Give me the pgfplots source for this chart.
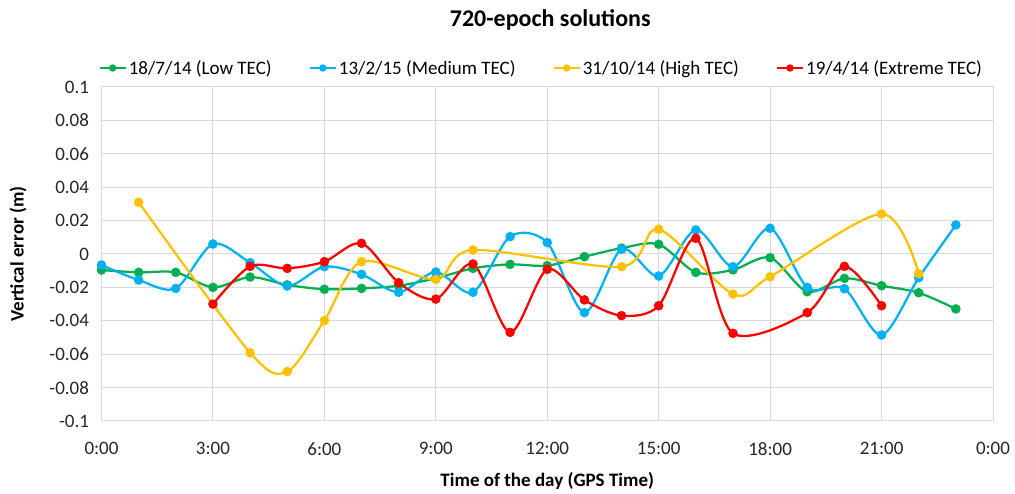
\documentclass[border=0pt]{standalone}
\usepackage{fontspec}
\setmainfont{Carlito}
\usepackage{pgfplots}
\pgfplotsset{compat=1.18}
\definecolor{cgreen}{RGB}{0,176,80}
\definecolor{cblue}{RGB}{0,176,240}
\definecolor{cyellow}{RGB}{255,192,0}
\definecolor{cred}{RGB}{255,0,0}
\definecolor{cgrid}{RGB}{217,217,217}
\begin{document}
\begin{tikzpicture}[x=1pt,y=1pt]
\useasboundingbox (-101.5,-73) rectangle (913.5,421);
\begin{axis}[
  at={(0,0)}, anchor=south west,
  scale only axis, width=891.5pt, height=334pt,
  xmin=0, xmax=24, ymin=-0.1, ymax=0.1,
  xtick={0,3,...,24},
  xticklabels={0:00,3:00,6:00,9:00,12:00,15:00,18:00,21:00,0:00},
  ytick={-0.1,-0.08,-0.06,-0.04,-0.02,0,0.02,0.04,0.06,0.08,0.1},
  yticklabels={-0.1,-0.08,-0.06,-0.04,-0.02,0,0.02,0.04,0.06,0.08,0.1},
  grid=major, major grid style={cgrid, line width=1pt},
  axis line style={cgrid, line width=1pt},
  tick style={draw=none},
  tick label style={font=\fontsize{19}{20}\selectfont, text=black!85},
  xticklabel style={yshift=-18pt},
  yticklabel style={xshift=-9pt},
  title={720-epoch solutions},
  title style={font=\bfseries\fontsize{24}{26}\selectfont, at={(axis description cs:0.5,1)}, anchor=center, yshift=61pt, xshift=3pt},
  every axis x label/.style={at={(axis description cs:0.5,0)}, anchor=center, yshift=-60pt},
  every axis y label/.style={at={(axis description cs:-0.0937,0.5)}, rotate=90, anchor=center},
  xlabel={Time of the day (GPS Time)},
  ylabel={Vertical error (m)},
  label style={font=\bfseries\fontsize{19}{20}\selectfont},
  legend style={at={(axis description cs:0.5,1)}, anchor=center, yshift=19pt, xshift=-6pt,
    draw=none, fill=none, font=\fontsize{19}{20}\selectfont,
    /tikz/every even column/.append style={column sep=35pt}},
  legend columns=4,
  legend cell align=left,
  legend image code/.code={\draw[mark repeat=2,mark phase=2,mark size=2.5pt] plot coordinates {(0pt,0pt) (13pt,0pt) (26pt,0pt)};},
  every axis plot/.append style={line width=2.25pt, smooth, mark=*, mark size=3.6pt, mark options={solid}},
]
\addplot[cgreen] coordinates {
(0,-0.0096) (1,-0.0110) (2,-0.0110) (3,-0.0200) (4,-0.0138) (5,-0.0185)
(6,-0.0211) (7,-0.0206) (8,-0.0190) (9,-0.0145) (10,-0.0086) (11,-0.0062)
(12,-0.0070) (13,-0.0016) (14,0.0035) (15,0.0058) (16,-0.0110) (17,-0.0095)
(18,-0.0022) (19,-0.0226) (20,-0.0146) (21,-0.0190) (22,-0.0232) (23,-0.0329)};
\addlegendentry{18/7/14 (Low TEC)}
\addplot[cblue] coordinates {
(0,-0.0066) (1,-0.0156) (2,-0.0206) (3,0.0060) (4,-0.0052) (5,-0.0192)
(6,-0.0076) (7,-0.0122) (8,-0.0229) (9,-0.0108) (10,-0.0229) (11,0.0104)
(12,0.0068) (13,-0.0351) (14,0.0028) (15,-0.0132) (16,0.0144) (17,-0.0076)
(18,0.0154) (19,-0.0200) (20,-0.0208) (21,-0.0485) (22,-0.0142) (23,0.0174)};
\addlegendentry{13/2/15 (Medium TEC)}
\addplot[cyellow] coordinates {
(1,0.0310) (4,-0.0591) (5,-0.0704) (6,-0.0399) (7,-0.0046) (9,-0.0152)
(10,0.0024) (14,-0.0076) (15,0.0148) (17,-0.0240) (18,-0.0136) (21,0.0240)
(22,-0.0118)};
\addlegendentry{31/10/14 (High TEC)}
\addplot[cred] coordinates {
(3,-0.0300) (4,-0.0074) (5,-0.0086) (6,-0.0046) (7,0.0064) (8,-0.0172)
(9,-0.0270) (10,-0.0060) (11,-0.0469) (12,-0.0092) (13,-0.0275) (14,-0.0369)
(15,-0.0310) (16,0.0094) (17,-0.0475) (19,-0.0351) (20,-0.0074) (21,-0.0310)};
\addlegendentry{19/4/14 (Extreme TEC)}
\end{axis}
\end{tikzpicture}
\end{document}
